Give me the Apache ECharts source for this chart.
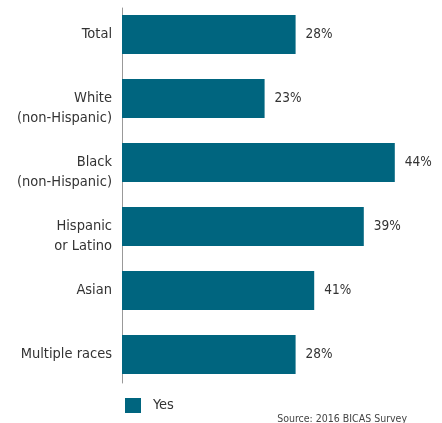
<!DOCTYPE html>
<html>
<head>
<meta charset="utf-8">
<script src="https://cdn.jsdelivr.net/npm/echarts@6/dist/echarts.min.js"></script>
<style>html,body{margin:0;padding:0;background:#fff;}#c{width:442px;height:423px;}</style>
</head>
<body>
<div id="c"></div>
<script>
const categories = ["Total", "White\n(non-Hispanic)", "Black\n(non-Hispanic)", "Hispanic\nor Latino", "Asian", "Multiple races"];
const barValues = [28, 23, 44, 39, 31, 28];
const valueLabels = ["28%", "23%", "44%", "39%", "41%", "28%"];
const seriesName = "Yes";
const sourceText = "Source: 2016 BICAS Survey";

const FONT = '"Liberation Sans Narrow", "DejaVu Sans Condensed", "Arial Narrow", sans-serif';
const chart = echarts.init(document.getElementById('c'), null, {renderer: 'canvas'});
chart.setOption({
  animation: false,
  backgroundColor: '#fff',
  grid: [
    {left: 122, top: 2.5, width: 310, height: 384, containLabel: false},
    {left: 122, top: 8, width: 310, height: 375, containLabel: false}
  ],
  xAxis: [
    {type: 'value', gridIndex: 0, min: 0, max: 50, show: false},
    {type: 'value', gridIndex: 1, min: 0, max: 50, show: false}
  ],
  yAxis: [
    {
      type: 'category', gridIndex: 0, inverse: true, data: categories,
      axisLine: {show: false}, axisTick: {show: false}, splitLine: {show: false},
      axisLabel: {
        color: '#333', fontFamily: FONT, fontSize: 14.5, lineHeight: 20, margin: 10,
        formatter: v => v.indexOf('\n') >= 0 ? '\n' + v : v
      }
    },
    {
      type: 'category', gridIndex: 1, data: categories,
      axisLine: {show: true, lineStyle: {color: '#999', width: 1}},
      axisTick: {show: false}, axisLabel: {show: false}, splitLine: {show: false}
    }
  ],
  legend: {
    left: 120, top: 393, itemWidth: 16, itemHeight: 15, itemGap: 10,
    icon: 'rect',
    textStyle: {color: '#333', fontFamily: FONT, fontSize: 14.5, padding: [0, 0, 0, 7]},
    data: [seriesName]
  },
  title: {
    text: sourceText, right: 30, top: 409,
    textStyle: {color: '#444', fontFamily: FONT, fontSize: 10.5, fontWeight: 'normal'}
  },
  series: [{
    name: seriesName, type: 'bar', xAxisIndex: 0, yAxisIndex: 0,
    data: barValues, barWidth: 39,
    itemStyle: {color: '#00657f'},
    z: 3,
    label: {
      show: true, position: 'right', distance: 10,
      color: '#333', fontFamily: FONT, fontSize: 13.5,
      formatter: p => valueLabels[p.dataIndex]
    }
  }]
});
</script>
</body>
</html>
